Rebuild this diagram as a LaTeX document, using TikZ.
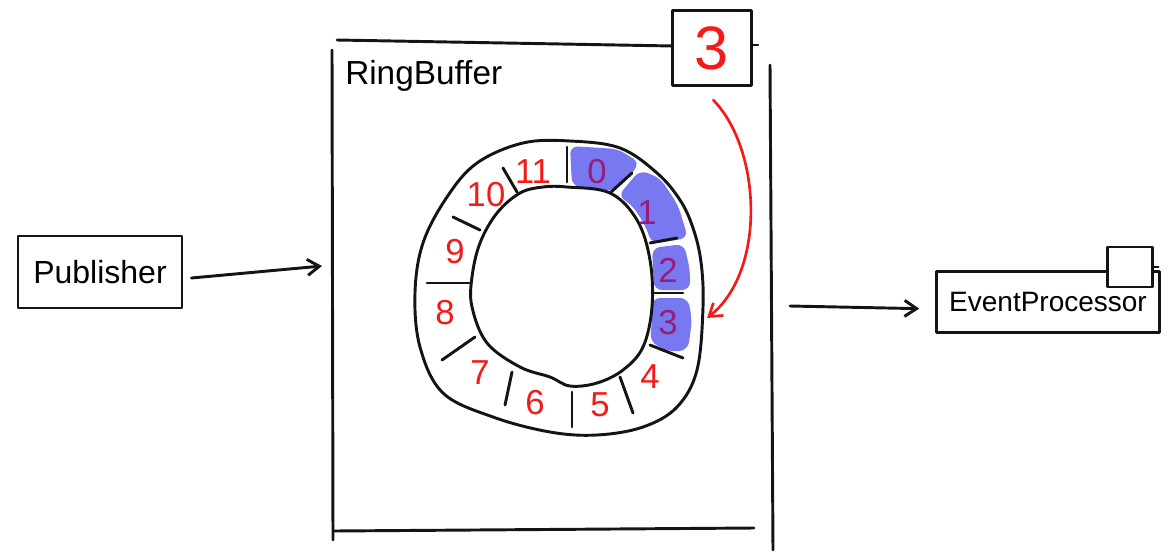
\documentclass[tikz,border=0pt]{standalone}
\usepackage{fontspec}
\setmainfont{Liberation Sans}
\usetikzlibrary{arrows.meta}
\definecolor{ink}{RGB}{20,20,20}
\definecolor{redink}{RGB}{245,25,25}
\definecolor{marker}{RGB}{120,120,240}
\definecolor{purpleink}{RGB}{150,30,120}
\begin{document}
\begin{tikzpicture}[x=0.75pt,y=-0.75pt, line cap=round, line join=round,
  pen/.style={draw=ink, line width=2.2pt},
  arr/.style={pen, -{Straight Barb[length=9pt,width=12pt]}},
  redarr/.style={draw=redink, line width=2pt, -{Straight Barb[length=9pt,width=12pt]}},
  box/.style={pen, fill=white, rectangle, inner sep=0pt},
  digit/.style={text=redink, font=\fontsize{26}{26}\selectfont, inner sep=0pt},
  hl/.style={digit, text=purpleink},
  mk/.style={fill=marker, rounded corners=6pt, draw=none}]
\useasboundingbox (0,0) rectangle (1174,554);

% ---- RingBuffer frame
\draw[pen] (337,40) -- (673,46);
\draw[pen] (752,45) -- (758,45);
\draw[pen] (332,50) -- (333,540);
\draw[pen] (334,531) -- (754,528);
\draw[pen] (770,65) -- (773,550);
\node[anchor=base west, font=\fontsize{25}{25}\selectfont, inner sep=0pt] (rblabel) at (345,84) {RingBuffer};

% counter box
\node[box, minimum width=59pt, minimum height=56pt, text=redink, font=\fontsize{46}{46}\selectfont] (cnt) at (712,48) {3};

% ---- highlight
\fill[mk] (570,146) -- (618,149) -- (640,163) -- (622,185) -- (608,192) -- (572,186) -- cycle;
\fill[mk] (640,170) -- (660,178) -- (678,205) -- (688,238) -- (652,244) -- (645,225) -- (632,205) -- (618,196) -- cycle;
\fill[mk] (652,248) -- (684,244) -- (690,270) -- (690,290) -- (654,290) -- (653,268) -- cycle;
\fill[mk] (652,298) -- (688,298) -- (692,320) -- (688,350) -- (670,352) -- (650,342) -- (652,320) -- cycle;

% ---- ring
\draw[pen] plot[smooth cycle, tension=0.6] coordinates {(570,141) (620,148) (657,173) (680,200) (693,228) (701,262) (703,307) (697,370) (677,407) (643,427) (597,435) (550,432) (493,417) (443,393) (420,347) (415,293) (423,243) (447,197) (477,163) (523,143)};
\draw[pen] plot[smooth cycle, tension=0.6] coordinates {(567,187) (610,193) (637,220) (650,260) (652,307) (643,347) (623,370) (597,383) (570,386) (550,377) (520,367) (487,343) (472,307) (472,277) (480,243) (497,213) (520,193) (543,187)};

% dividers
\draw[pen] (567,147) -- (567,182);
\draw[pen] (610,193) -- (632,173);
\draw[pen] (650,243) -- (677,238);
\draw[pen] (652,293) -- (683,293);
\draw[pen] (650,345) -- (683,358);
\draw[pen] (620,377) -- (633,413);
\draw[pen] (572,392) -- (572,427);
\draw[pen] (512,372) -- (505,405);
\draw[pen] (475,337) -- (442,360);
\draw[pen] (427,283) -- (470,283);
\draw[pen] (453,217) -- (480,230);
\draw[pen] (503,168) -- (517,192);

% digits
\node[hl] (d0) at (597,172) {0};
\node[hl] (d1) at (647,213) {1};
\node[hl] (d2) at (668,270) {2};
\node[hl] (d3) at (668,323) {3};
\node[digit] (d4) at (650,377) {4};
\node[digit] (d5) at (600,405) {5};
\node[digit] (d6) at (535,403) {6};
\node[digit] (d7) at (480,373) {7};
\node[digit] (d8) at (445,313) {8};
\node[digit] (d9) at (455,252) {9};
\node[digit] (d10) at (486,195) {10};
\node[digit] (d11) at (533,172) {11};

% red pointer arrow
\coordinate (slot3) at (707,318);
\draw[redarr] ([xshift=1pt,yshift=-10pt]cnt.south) .. controls (762,150) and (766,272) .. (slot3);

% ---- Publisher
\node[box, minimum width=123pt, minimum height=54pt, font=\fontsize{24}{24}\selectfont] (pub) at (100,272) {Publisher};
\coordinate (rbin) at (322,266);
\draw[arr] ([xshift=6pt,yshift=-4.5pt]pub.east) -- (rbin);

% ---- EventProcessor
\node[box, minimum width=167pt, minimum height=46pt, font=\fontsize{21}{21}\selectfont] (ep) at (1048,302) {EventProcessor};
\node[box, minimum width=34pt, minimum height=30pt] (epq) at (1130,267) {};
\draw[pen] (epq.east) -- ++(4,0);
\coordinate (rbout) at (790,306);
\draw[arr] (rbout) -- ([xshift=-12pt,yshift=-5pt]ep.west);
\end{tikzpicture}
\end{document}
